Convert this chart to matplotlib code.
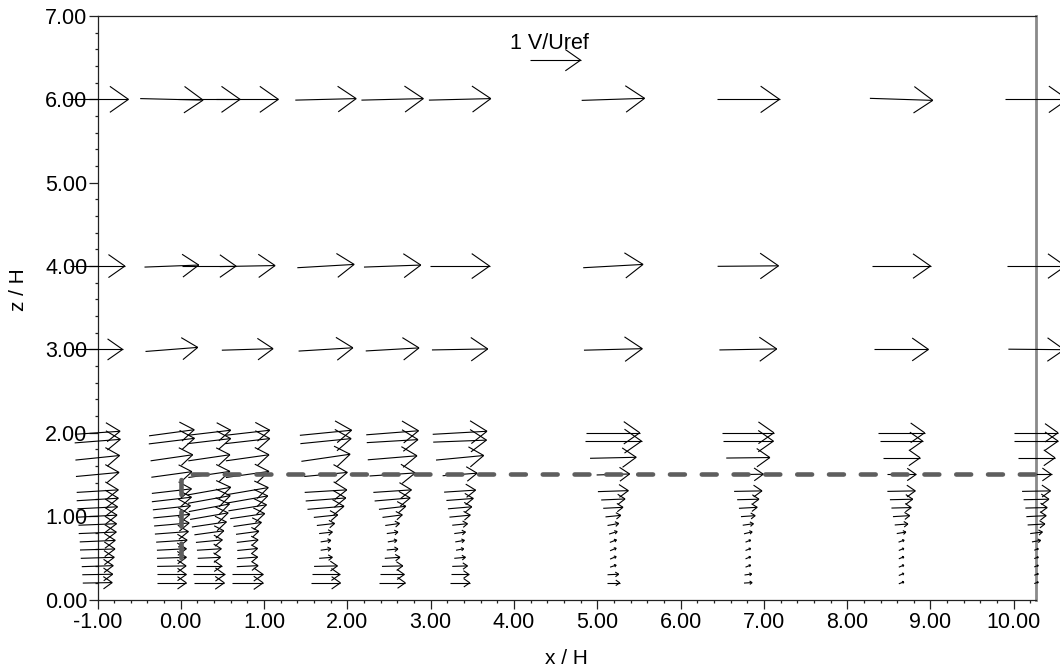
import numpy as np
import matplotlib
matplotlib.use("Agg")
import matplotlib.pyplot as plt
from matplotlib.collections import LineCollection
from matplotlib.ticker import MultipleLocator, FormatStrFormatter

plt.rcParams['font.family'] = ['Liberation Sans', 'DejaVu Sans']

# Measurement stations (x/H) and the dense profile heights (z/H)
stations = [-1.00, -0.11, 0.34, 0.80, 1.74, 2.54, 3.35, 5.19, 6.81, 8.65, 10.27]
levels_near = [0.2, 0.3, 0.4, 0.5, 0.6, 0.7, 0.8, 0.9, 1.0, 1.1, 1.2, 1.3,
               1.5, 1.7, 1.9, 2.0]

# Horizontal velocity V/Uref near the canopy, one row per station
u_near = [
    [0.58, 0.60, 0.62, 0.66, 0.69, 0.70, 0.74, 0.75, 0.77, 0.79, 0.82, 0.82, 0.85, 0.87, 0.90, 0.89],
    [0.58, 0.58, 0.57, 0.58, 0.58, 0.61, 0.66, 0.69, 0.72, 0.74, 0.78, 0.78, 0.80, 0.83, 0.90, 0.89],
    [0.60, 0.62, 0.50, 0.45, 0.48, 0.52, 0.58, 0.68, 0.75, 0.80, 0.83, 0.85, 0.82, 0.82, 0.85, 0.85],
    [0.62, 0.62, 0.42, 0.40, 0.40, 0.42, 0.45, 0.55, 0.68, 0.75, 0.80, 0.82, 0.85, 0.85, 0.88, 0.88],
    [0.58, 0.56, 0.46, 0.26, 0.20, 0.20, 0.26, 0.35, 0.47, 0.72, 0.79, 0.83, 0.85, 0.96, 1.00, 1.02],
    [0.51, 0.47, 0.41, 0.30, 0.22, 0.18, 0.22, 0.28, 0.39, 0.53, 0.70, 0.75, 0.90, 0.97, 1.01, 1.03],
    [0.39, 0.36, 0.30, 0.22, 0.15, 0.18, 0.22, 0.30, 0.41, 0.47, 0.53, 0.62, 0.68, 0.94, 1.05, 1.07],
    [0.26, 0.22, 0.12, 0.12, 0.12, 0.13, 0.16, 0.22, 0.30, 0.39, 0.47, 0.60, 0.65, 0.91, 1.12, 1.05],
    [0.16, 0.14, 0.10, 0.10, 0.10, 0.10, 0.16, 0.21, 0.28, 0.36, 0.43, 0.55, 0.60, 0.86, 1.00, 1.02],
    [0.10, 0.10, 0.10, 0.10, 0.10, 0.11, 0.18, 0.26, 0.33, 0.39, 0.45, 0.55, 0.58, 0.74, 0.84, 0.92],
    [0.08, 0.08, 0.08, 0.08, 0.08, 0.17, 0.24, 0.34, 0.39, 0.43, 0.50, 0.56, 0.60, 0.74, 0.86, 0.86],
]

# Vertical velocity W/Uref near the canopy
w_near = [
    [0.01, 0.01, 0.02, 0.02, 0.02, 0.03, 0.03, 0.03, 0.04, 0.04, 0.05, 0.05, 0.08, 0.09, 0.07, 0.06],
    [0.00, 0.00, 0.01, 0.02, 0.03, 0.04, 0.05, 0.06, 0.07, 0.08, 0.09, 0.09, 0.11, 0.12, 0.11, 0.12],
    [0.00, 0.00, 0.00, 0.02, 0.03, 0.05, 0.08, 0.10, 0.13, 0.15, 0.15, 0.15, 0.12, 0.12, 0.10, 0.10],
    [0.00, 0.00, 0.02, 0.03, 0.04, 0.05, 0.06, 0.08, 0.10, 0.12, 0.14, 0.14, 0.12, 0.12, 0.10, 0.10],
    [0.00, 0.00, 0.01, 0.02, 0.03, 0.03, 0.03, 0.04, 0.05, 0.06, 0.06, 0.05, 0.08, 0.14, 0.10, 0.10],
    [0.00, 0.00, 0.01, 0.02, 0.02, 0.03, 0.03, 0.04, 0.05, 0.06, 0.06, 0.05, 0.06, 0.08, 0.06, 0.08],
    [0.00, 0.00, 0.01, 0.02, 0.03, 0.03, 0.03, 0.03, 0.04, 0.04, 0.04, 0.04, 0.05, 0.09, 0.04, 0.06],
    [0.00, 0.01, 0.04, 0.05, 0.05, 0.05, 0.05, 0.04, 0.03, 0.02, 0.02, 0.02, 0.02, 0.02, 0.00, 0.00],
    [0.01, 0.02, 0.04, 0.04, 0.04, 0.04, 0.04, 0.03, 0.02, 0.02, 0.01, 0.01, 0.01, 0.01, 0.00, 0.00],
    [0.04, 0.04, 0.04, 0.04, 0.04, 0.04, 0.03, 0.02, 0.02, 0.01, 0.01, 0.01, 0.00, 0.00, 0.00, 0.00],
    [0.03, 0.03, 0.03, 0.03, 0.03, 0.03, 0.03, 0.02, 0.02, 0.01, 0.01, 0.01, 0.00, 0.00, 0.00, 0.00],
]

# Sparse upper levels (NaN = no measurement)
levels_upper = [3.0, 4.0, 6.0]
u_upper = [
    [0.99, 1.03, np.nan, 1.01, 1.07, 1.05, 1.10, 1.15, 1.13, 1.07, 1.10],
    [1.08, 1.07, 1.06, 1.09, 1.12, 1.12, 1.17, 1.18, 1.20, 1.15, 1.15],
    [1.22, 1.24, 1.22, 1.22, 1.20, 1.22, 1.22, 1.24, 1.24, 1.24, 1.24],
]
w_upper = [
    [0.00, 0.08, np.nan, 0.03, 0.065, 0.06, 0.02, 0.03, 0.02, 0.00, -0.01],
    [0.00, 0.04, 0.00, 0.02, 0.065, 0.04, 0.00, 0.065, 0.01, 0.00, 0.00],
    [0.00, -0.03, 0.00, 0.00, 0.03, 0.03, 0.03, 0.04, 0.00, -0.04, 0.00],
]

# Building outline (x/H, z/H)
building_x = [0.0, 0.0, 10.27]
building_z = [0.5, 1.5, 1.5]

ref_speed = 1.0
ref_label = "1 V/Uref"
ref_pos = (4.19, 6.47)

XMIN, XMAX = -1.0, 10.263
YMIN, YMAX = 0.0, 7.0
ARROW_SCALE = 0.609   # data units per unit V/Uref
HEAD_LEN = 0.30       # fraction of arrow length
HEAD_HALF = 0.21      # fraction of arrow length


def arrow_segments(x0, z0, u, w, pivot="middle"):
    dx, dz = u * ARROW_SCALE, w * ARROW_SCALE
    if pivot == "middle":
        tail = np.array([x0 - dx / 2, z0 - dz / 2])
    else:
        tail = np.array([x0, z0])
    tip = tail + np.array([dx, dz])
    L = np.hypot(dx, dz)
    t = np.array([dx, dz]) / L
    n = np.array([-t[1], t[0]])
    b1 = tip - HEAD_LEN * L * t + HEAD_HALF * L * n
    b2 = tip - HEAD_LEN * L * t - HEAD_HALF * L * n
    return [[tail, tip], [b1, tip], [b2, tip]]


fig = plt.figure(figsize=(10.6, 6.72), dpi=100)
ax = fig.add_axes([97.5 / 1060, (672 - 599.5) / 672,
                   (1035.7 - 97.5) / 1060, (599.5 - 16) / 672])
ax.set_xlim(XMIN, XMAX)
ax.set_ylim(YMIN, YMAX)

segs = []
for i, xs in enumerate(stations):
    for j, z in enumerate(levels_near):
        segs += arrow_segments(xs, z, u_near[i][j], w_near[i][j])
    for k, z in enumerate(levels_upper):
        u = u_upper[k][i]
        if np.isnan(u):
            continue
        segs += arrow_segments(xs, z, u, w_upper[k][i])

lc = LineCollection(segs, colors="black", linewidths=0.8, clip_on=False, zorder=3)
ax.add_collection(lc)

# reference vector
ref = LineCollection(arrow_segments(ref_pos[0], ref_pos[1], ref_speed, 0.0, pivot="tail"),
                     colors="black", linewidths=0.8, clip_on=False, zorder=3)
ax.add_collection(ref)
ax.text(3.95, 6.60, ref_label, fontsize=15.5, ha="left", va="baseline")

# building outline
lw_b = 3.3
ax.plot(building_x, building_z, color="#5e5e5e", lw=lw_b,
        dashes=(10.7 / lw_b, 12.2 / lw_b), dash_capstyle="round",
        solid_capstyle="round", zorder=4, clip_on=False)

# axes styling
ax.xaxis.set_major_locator(MultipleLocator(1.0))
ax.xaxis.set_minor_locator(MultipleLocator(0.2))
ax.yaxis.set_major_locator(MultipleLocator(1.0))
ax.yaxis.set_minor_locator(MultipleLocator(0.2))
ax.xaxis.set_major_formatter(FormatStrFormatter("%.2f"))
ax.yaxis.set_major_formatter(FormatStrFormatter("%.2f"))
ax.tick_params(which="major", direction="out", length=6.7, width=0.9,
               labelsize=15.5, color="#222222")
ax.tick_params(which="minor", direction="out", length=2.4, width=0.9, color="#222222")
ax.tick_params(axis="y", pad=0.5)
ax.tick_params(axis="x", pad=2)

for side in ("left", "bottom", "top"):
    ax.spines[side].set_color("#222222")
    ax.spines[side].set_linewidth(0.9)
ax.spines["right"].set_color("#8a8a8a")
ax.spines["right"].set_linewidth(2.0)

ax.set_xlabel("x / H", fontsize=15, labelpad=12)
fig.text(18 / 1060, 1 - 290 / 672, "z / H", fontsize=15, rotation=90,
         ha="center", va="center")

fig.savefig("out.png", dpi=100)
